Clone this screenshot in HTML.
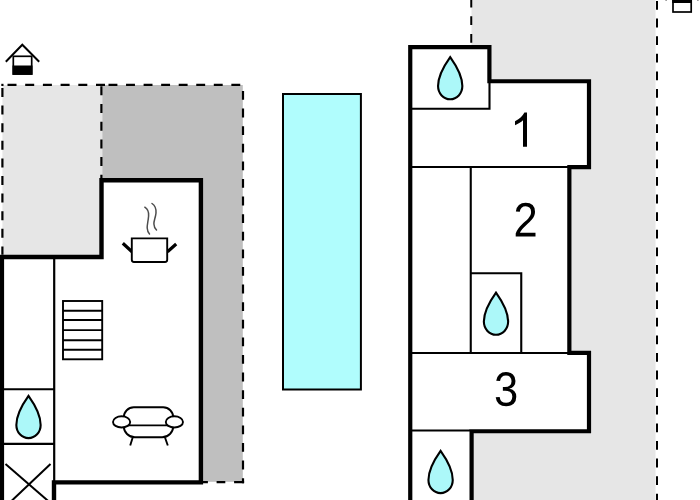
<!DOCTYPE html>
<html><head><meta charset="utf-8">
<style>
html,body{margin:0;padding:0;background:#fff;}
body{width:700px;height:500px;overflow:hidden;font-family:"Liberation Sans",sans-serif;}
svg{display:block}
text{font-family:"Liberation Sans",sans-serif;fill:#000}
</style></head><body>
<svg width="700" height="500" viewBox="0 0 700 500">
<rect width="700" height="500" fill="#fff"/>

<!-- LEFT: terraces -->
<rect x="2.4" y="85" width="99.9" height="172" fill="#e6e6e6"/>
<rect x="102.3" y="85" width="140.5" height="396.8" fill="#bfbfbf"/>
<!-- left building interior -->
<polygon points="0,257 101.5,257 101.5,180.25 201,180.25 201,482.4 54,482.4 54,500 0,500" fill="#fff"/>

<!-- dashed outlines left -->
<g fill="none" stroke="#000" stroke-width="2.2">
<path d="M1.3,84.9 H3.5"/>
<path d="M2.4,88 V254.7" stroke-dasharray="9 8.6"/>
<path d="M7.5,84.9 H105" stroke-dasharray="9 8.7"/>
<path d="M101.4,86.3 V178" stroke-dasharray="9 8.7"/>
<path d="M108.5,84.9 H241" stroke-dasharray="8.9 8.65"/>
<path d="M243,91 V483.2" stroke-dasharray="8.8 8.8"/>
<path d="M244.1,482.1 H203" stroke-dasharray="10 8.8 8.7 8.7 8.8 8.8"/>
</g>

<!-- thin lines left -->
<g fill="none" stroke="#000" stroke-width="2">
<path d="M54.2,259 V481" stroke-width="2.2"/>
<path d="M3,389.25 H54.4"/>
<path d="M3,443.9 H54.4" stroke-width="2.2"/>
<path d="M5.5,464 L50.5,503"/>
<path d="M50.5,464 L8.5,503.8"/>
</g>

<!-- thick walls left -->
<path d="M1.9,500 V257 M0,257 H101.5 V180.25 H200.9 V482.4 H54 V500" fill="none" stroke="#000" stroke-width="4.4" stroke-linejoin="miter"/>

<!-- stairs -->
<g fill="none" stroke="#000" stroke-width="1.9">
<rect x="63" y="301" width="39.2" height="58.3"/>
<path d="M63,310.75 H102.2 M63,320 H102.2 M63,330.1 H102.2 M63,340.2 H102.2 M63,349.7 H102.2"/>
</g>

<!-- pot -->
<g fill="none" stroke="#000">
<path d="M122.8,243.3 L132,251.8 M176.2,244 L167.5,251.8" stroke-width="3.2" stroke-linecap="butt"/>
<path d="M131.8,238.4 H167.2 V259.8 Q167.2,262 165,262 H134 Q131.8,262 131.8,259.8 Z" fill="#fff" stroke-width="1.9"/>
<path d="M144.8,207.2 C147.5,209 149,212 148.6,216 C148.2,221 147,225 147.2,228 C147.4,231 148.5,233 149.5,234" stroke="#4d4d4d" stroke-width="1.5" stroke-linecap="round"/>
<path d="M152,203.5 C155,205.5 156.3,209 156,213 C155.6,217.5 153.8,220.5 153.9,224 C154,227 155.5,229 156.5,230" stroke="#4d4d4d" stroke-width="1.5" stroke-linecap="round"/>
</g>

<!-- sofa -->
<g fill="#fff" stroke="#000" stroke-width="1.9">
<path d="M132.7,437.5 L130.2,445.5 M165,437.5 L167.8,445.5" fill="none"/>
<path d="M123.8,417.3 A10,10 0 0 1 133.8,407.3 H163.2 A10,10 0 0 1 173.2,417.3 V426.2 A11,11 0 0 1 162.2,437.2 H134.8 A11,11 0 0 1 123.8,426.2 Z"/>
<path d="M124,425.4 H173" fill="none"/>
<ellipse cx="121.6" cy="421.9" rx="8.6" ry="5.6"/>
<ellipse cx="174.4" cy="421.9" rx="8.6" ry="5.6"/>
</g>

<!-- house icon -->
<g stroke="#000" fill="none">
<rect x="13.3" y="56.3" width="18.4" height="17.7" stroke-width="1.7" fill="#fff"/>
<rect x="12.5" y="65.5" width="20" height="9.3" fill="#000" stroke="none"/>
<path d="M5.8,61.8 L22.3,44.8 L39.2,61.8" stroke-width="2"/>
</g>

<!-- pool -->
<rect x="283" y="94" width="77.9" height="295.5" fill="#b0fdfd" stroke="#000" stroke-width="2"/>

<!-- RIGHT: terrace -->
<rect x="471.5" y="0" width="184" height="500" fill="#e6e6e6"/>
<polygon points="410.25,47.1 489.4,47.1 489.4,81.25 589,81.25 589,167.1 569.35,167.1 569.35,352.9 589,352.9 589,431.25 471.6,431.25 471.6,500 410.25,500" fill="#fff"/>
<g fill="none" stroke="#000">
<path d="M471.25,0 V45" stroke-width="2" stroke-dasharray="8.8 8.8" stroke-dashoffset="1.3"/>
<path d="M657,0 V500" stroke-width="2" stroke-dasharray="8.8 8.8" stroke-dashoffset="-1"/>
</g>

<!-- thin lines right -->
<g fill="none" stroke="#000" stroke-width="2.1">
<path d="M412,108.75 H489.5 V83"/>
<path d="M412,167 H568"/>
<path d="M470.75,167 V353"/>
<path d="M470.75,273.25 H521.25 V353"/>
<path d="M412,353 H568"/>
<path d="M412,430.5 H470"/>
</g>

<!-- thick walls right -->
<path d="M471.6,500 V431.25 H589 V352.9 H569.35 V167.1 H589 V81.25 H489.4 V47.1 H410.25 V500" fill="none" stroke="#000" stroke-width="4.2" stroke-linejoin="miter"/>

<!-- droplets -->
<g fill="#acf8f9" stroke="#000" stroke-width="2.1" stroke-linejoin="miter" stroke-miterlimit="10">
<path d="M0,0 C5,7 12.15,17.3 12.15,29 C12.15,36.4 6.7,42.2 0,42.2 C-6.7,42.2 -12.15,36.4 -12.15,29 C-12.15,17.3 -5,7 0,0 Z" transform="translate(450.2,57.1)"/>
<path d="M0,0 C5,7 12.15,17.3 12.15,29 C12.15,36.4 6.7,42.2 0,42.2 C-6.7,42.2 -12.15,36.4 -12.15,29 C-12.15,17.3 -5,7 0,0 Z" transform="translate(496,292.6)"/>
<path d="M0,0 C5,7 12.15,17.3 12.15,29 C12.15,36.4 6.7,42.2 0,42.2 C-6.7,42.2 -12.15,36.4 -12.15,29 C-12.15,17.3 -5,7 0,0 Z" transform="translate(440.6,450.9)"/>
<path d="M0,0 C5,7 12.15,17.3 12.15,29 C12.15,36.4 6.7,42.2 0,42.2 C-6.7,42.2 -12.15,36.4 -12.15,29 C-12.15,17.3 -5,7 0,0 Z" transform="translate(28.5,395.9)"/>
</g>

<!-- numbers -->
<g fill="#000">
<path transform="translate(510.06,146.8) scale(0.0222,-0.02323)" d="M763,0H583V1147Q518,1085 412.5,1023Q307,961 223,930V1104Q374,1175 487,1276Q600,1377 647,1472H763Z"/>
<path transform="translate(513.53,236.47) scale(0.0212,-0.0236)" d="M103 0V127Q154 244 227.5 333.5Q301 423 382.0 495.5Q463 568 542.5 630.0Q622 692 686.0 754.0Q750 816 789.5 884.0Q829 952 829 1038Q829 1154 761.0 1218.0Q693 1282 572 1282Q457 1282 382.5 1219.5Q308 1157 295 1044L111 1061Q131 1230 254.5 1330.0Q378 1430 572 1430Q785 1430 899.5 1329.5Q1014 1229 1014 1044Q1014 962 976.5 881.0Q939 800 865.0 719.0Q791 638 582 468Q467 374 399.0 298.5Q331 223 301 153H1036V0Z"/>
<path transform="translate(494.05,405.84) scale(0.0212,-0.0236)" d="M1049 389Q1049 194 925.0 87.0Q801 -20 571 -20Q357 -20 229.5 76.5Q102 173 78 362L264 379Q300 129 571 129Q707 129 784.5 196.0Q862 263 862 395Q862 510 773.5 574.5Q685 639 518 639H416V795H514Q662 795 743.5 859.5Q825 924 825 1038Q825 1151 758.5 1216.5Q692 1282 561 1282Q442 1282 368.5 1221.0Q295 1160 283 1049L102 1063Q122 1236 245.5 1333.0Q369 1430 563 1430Q775 1430 892.5 1331.5Q1010 1233 1010 1057Q1010 922 934.5 837.5Q859 753 715 723V719Q873 702 961.0 613.0Q1049 524 1049 389Z"/>
</g>

<!-- top-right icon -->
<g>
<rect x="673" y="-2" width="18.2" height="14" fill="#fff" stroke="#000" stroke-width="1.7"/>
<rect x="672.2" y="0" width="19.8" height="3" fill="#000"/>
<rect x="665.5" y="0" width="1.2" height="0.8" fill="#555"/>
<rect x="697.3" y="0" width="1.2" height="0.8" fill="#555"/>
</g>
</svg>
</body></html>
